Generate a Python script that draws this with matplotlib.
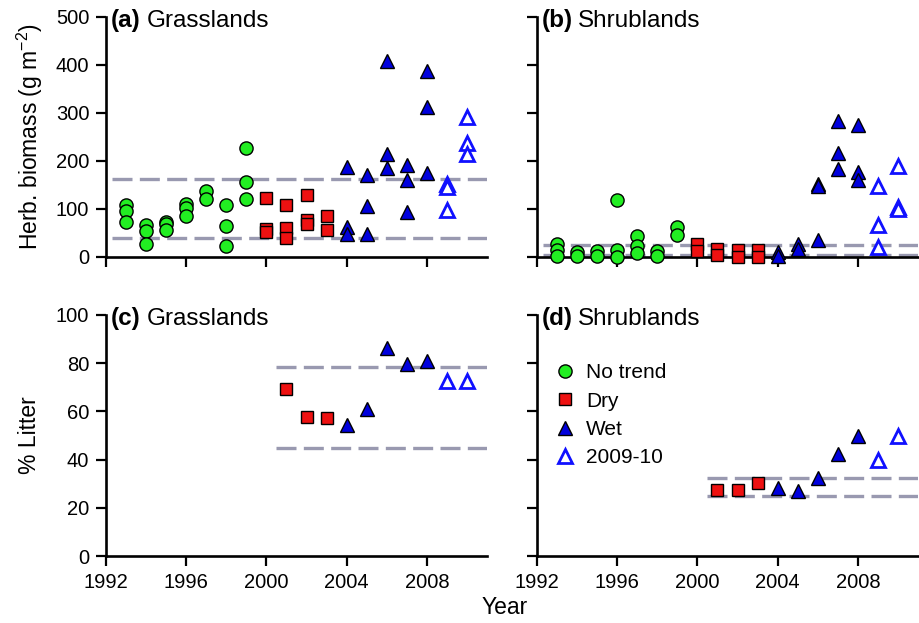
import matplotlib
matplotlib.use("Agg")
import matplotlib.pyplot as plt
from matplotlib.lines import Line2D

plt.rcParams['font.family'] = ['Liberation Sans', 'DejaVu Sans']
plt.rcParams['mathtext.fontset'] = 'custom'
plt.rcParams['mathtext.rm'] = 'Liberation Sans'
plt.rcParams['mathtext.it'] = 'Liberation Sans:italic'
plt.rcParams['mathtext.bf'] = 'Liberation Sans:bold'

# ---------------- data ----------------
# (a) Grasslands herbaceous biomass
a_notrend_x = [1993]*3 + [1994]*3 + [1995]*3 + [1996]*3 + [1997]*2 + [1998]*3 + [1999]*3
a_notrend_y = [108, 95, 72, 67, 55, 27, 73, 68, 57, 110, 102, 85, 137, 120, 108, 65, 23, 227, 156, 121]
a_dry_x = [2000]*3 + [2001]*3 + [2002]*3 + [2003]*2
a_dry_y = [123, 58, 52, 108, 60, 40, 129, 78, 68, 86, 56]
a_wet_x = [2004]*3 + [2005]*3 + [2006]*3 + [2007]*3 + [2008]*3
a_wet_y = [188, 62, 48, 170, 107, 48, 408, 214, 185, 191, 160, 94, 388, 313, 174]
a_new_x = [2009]*3 + [2010]*3
a_new_y = [152, 145, 98, 292, 238, 215]
a_bounds = [163, 40]

# (b) Shrublands herbaceous biomass
b_notrend_x = [1993]*3 + [1994]*2 + [1995]*2 + [1996]*3 + [1997]*3 + [1998]*2 + [1999]*2
b_notrend_y = [28, 15, 3, 11, 2, 13, 3, 119, 14, 1, 43, 22, 8, 13, 3, 63, 45]
b_dry_x = [2000]*2 + [2001]*2 + [2002]*2 + [2003]*2
b_dry_y = [27, 13, 17, 5, 14, 1, 14, 1]
b_wet_x = [2004]*2 + [2005]*2 + [2006]*3 + [2007]*3 + [2008]*3
b_wet_y = [10, 2, 28, 17, 152, 148, 36, 283, 217, 183, 274, 178, 161]
b_new_x = [2009]*3 + [2010]*3
b_new_y = [147, 66, 21, 190, 105, 100]
b_bounds = [24, 4]

# (c) Grasslands % litter
c_dry_x = [2001, 2002, 2003]
c_dry_y = [69.2, 57.6, 57.4]
c_wet_x = [2004, 2005, 2006, 2007, 2008]
c_wet_y = [54.4, 61.2, 86.5, 79.7, 81.0]
c_new_x = [2009, 2010]
c_new_y = [72.8, 72.8]
c_bounds = [78.3, 44.7]

# (d) Shrublands % litter
d_dry_x = [2001, 2002, 2003]
d_dry_y = [27.5, 27.5, 30.3]
d_wet_x = [2004, 2005, 2006, 2007, 2008]
d_wet_y = [28.2, 27.1, 32.2, 42.4, 49.7]
d_new_x = [2009, 2010]
d_new_y = [39.9, 49.7]
d_bounds = [32.2, 24.7]

year_ticks = [1992, 1996, 2000, 2004, 2008]
biomass_ticks = [0, 100, 200, 300, 400, 500]
litter_ticks = [0, 20, 40, 60, 80, 100]
legend_labels = ["No trend", "Dry", "Wet", "2009-10"]

# ---------------- styles ----------------
GREEN = '#22ee22'
RED = '#ee1111'
BLUE = '#0000dd'
OPEN = '#1010ff'
DASH = '#9999b0'

fig = plt.figure(figsize=(9.2, 6.23), dpi=100)
W, H = 920, 623

def make_ax(left_px, top_px, bottom_px, right_px):
    return fig.add_axes([left_px / W, (H - bottom_px) / H,
                         (right_px - left_px) / W, (bottom_px - top_px) / H])

ax_a = make_ax(106, 17, 257, 487)
ax_b = make_ax(537, 17, 257, 918)
ax_c = make_ax(106, 315, 556, 487)
ax_d = make_ax(537, 315, 556, 918)

def style(ax, yticks, ylim, show_xlabels, show_ylabels):
    for s in ['top', 'right']:
        ax.spines[s].set_visible(False)
    for s in ['left', 'bottom']:
        ax.spines[s].set_linewidth(1.9)
    ax.set_xlim(1992, 2011)
    ax.set_ylim(*ylim)
    ax.set_xticks(year_ticks)
    ax.set_yticks(yticks)
    ax.tick_params(direction='out', length=7, width=1.6, labelsize=14.5, pad=5)
    if not show_xlabels:
        ax.set_xticklabels([])
    if not show_ylabels:
        ax.set_yticklabels([])

def draw(ax, groups, bounds, xstart):
    for b in bounds:
        ax.hlines(b, xstart, 2011, colors=DASH, linewidth=2.4,
                  linestyles=(0, (6, 2.2)), zorder=1)
    handles = []
    for kind, xs, ys in groups:
        if kind == 'n':
            h, = ax.plot(xs, ys, 'o', ms=9.5, mfc=GREEN, mec='black', mew=1.0,
                         clip_on=False, zorder=3)
        elif kind == 'd':
            h, = ax.plot(xs, ys, 's', ms=8.8, mfc=RED, mec='black', mew=1.0,
                         clip_on=False, zorder=3)
        elif kind == 'w':
            h, = ax.plot(xs, ys, '^', ms=10, mfc=BLUE, mec='black', mew=1.0,
                         clip_on=False, zorder=3)
        else:
            h, = ax.plot(xs, ys, '^', ms=9.5, mfc='white', mec=OPEN, mew=2.0,
                         clip_on=False, zorder=3)
        handles.append(h)
    return handles

draw(ax_a, [('n', a_notrend_x, a_notrend_y), ('d', a_dry_x, a_dry_y),
            ('w', a_wet_x, a_wet_y), ('o', a_new_x, a_new_y)], a_bounds, 1992.3)
draw(ax_b, [('n', b_notrend_x, b_notrend_y), ('d', b_dry_x, b_dry_y),
            ('w', b_wet_x, b_wet_y), ('o', b_new_x, b_new_y)], b_bounds, 1992.3)
draw(ax_c, [('d', c_dry_x, c_dry_y), ('w', c_wet_x, c_wet_y),
            ('o', c_new_x, c_new_y)], c_bounds, 2000.5)
draw(ax_d, [('d', d_dry_x, d_dry_y), ('w', d_wet_x, d_wet_y),
            ('o', d_new_x, d_new_y)], d_bounds, 2000.5)

style(ax_a, biomass_ticks, (0, 500), False, True)
style(ax_b, biomass_ticks, (0, 500), False, False)
style(ax_c, litter_ticks, (0, 100), True, True)
style(ax_d, litter_ticks, (0, 100), True, False)

# panel titles
for ax, tag, name in [(ax_a, '(a)', 'Grasslands'), (ax_b, '(b)', 'Shrublands'),
                      (ax_c, '(c)', 'Grasslands'), (ax_d, '(d)', 'Shrublands')]:
    ax.text(0.013, 0.985, tag, transform=ax.transAxes, fontsize=17.5,
            fontweight='bold', va='center', ha='left')
    ax.text(0.108, 0.985, name, transform=ax.transAxes, fontsize=17.5,
            va='center', ha='left')

# legend in (d)
leg_handles = [
    Line2D([], [], ls='none', marker='o', ms=9.5, mfc=GREEN, mec='black', mew=1.0),
    Line2D([], [], ls='none', marker='s', ms=8.8, mfc=RED, mec='black', mew=1.0),
    Line2D([], [], ls='none', marker='^', ms=10, mfc=BLUE, mec='black', mew=1.0),
    Line2D([], [], ls='none', marker='^', ms=9.5, mfc='white', mec=OPEN, mew=2.0),
]
ax_d.legend(leg_handles, legend_labels, loc='upper left',
            bbox_to_anchor=(0.047, 0.80), frameon=False, fontsize=15,
            handlelength=1.0, handletextpad=0.5, labelspacing=0.45,
            borderpad=0, borderaxespad=0)

# axis labels
fig.text(30 / W, 1 - 137 / H, 'Herb. biomass (g m$^{-2}$)', rotation=90,
         fontsize=16.5, ha='center', va='center')
fig.text(30 / W, 1 - 435 / H, '% Litter', rotation=90,
         fontsize=16.5, ha='center', va='center')
fig.text(505 / W, 1 - 607 / H, 'Year', fontsize=16.5, ha='center', va='center')

fig.savefig('out.png', dpi=100)
